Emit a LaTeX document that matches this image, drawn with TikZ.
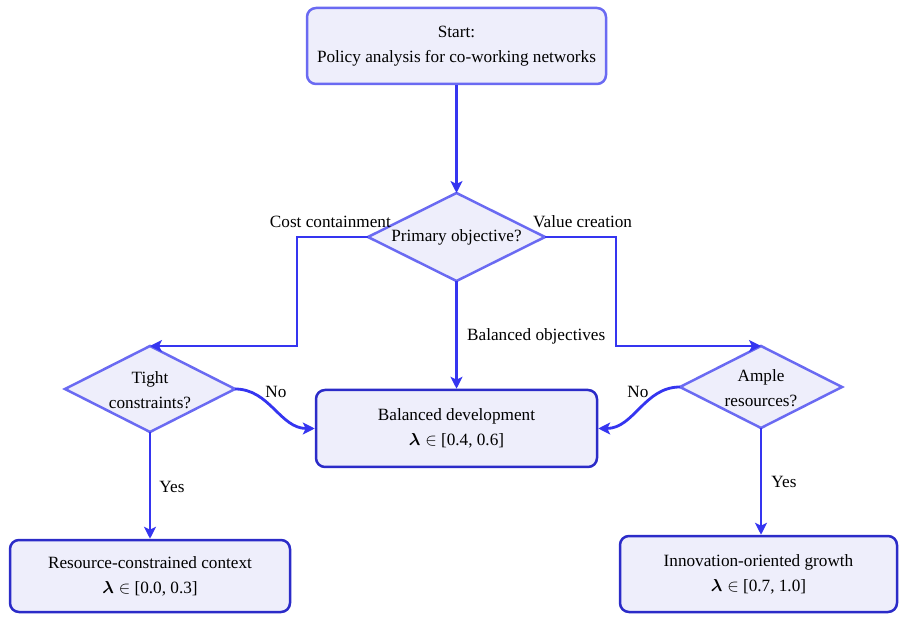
\documentclass[tikz,border=0pt]{standalone}
\usepackage{amsmath}
\usepackage{bm}
\usepackage{fontspec}
\setmainfont{Liberation Serif}
\usetikzlibrary{shapes.geometric,arrows.meta}
\definecolor{cFill}{HTML}{EEEEFB}
\definecolor{cLight}{HTML}{6A6AF2}
\definecolor{cDark}{HTML}{2B2BC8}
\definecolor{cArrow}{HTML}{3535F0}
\begin{document}
\begin{tikzpicture}[x=1pt,y=-1pt,
  every node/.style={font=\fontsize{17.2}{25}\selectfont},
  startbox/.style={draw=cLight, fill=cFill, line width=2.5pt, rounded corners=9pt, align=center, inner sep=0pt},
  endbox/.style={draw=cDark, fill=cFill, line width=2.5pt, rounded corners=9pt, align=center, inner sep=0pt},
  decision/.style={diamond, draw=cLight, fill=cFill, line width=2.5pt, inner sep=0pt, outer sep=0pt},
  dtext/.style={align=center, inner sep=0pt},
  flow/.style={draw=cArrow, line width=2.8pt, -{Stealth[length=12pt,width=12pt,inset=3pt]}},
  lbl/.style={inner sep=1pt}
]
\useasboundingbox (0,0) rectangle (900,617);
\node[startbox, minimum width=299pt, minimum height=76pt] (start) at (456.5,46) {Start:\\Policy analysis for co-working networks};
\node[decision, minimum width=177pt, minimum height=88pt] (prim) at (456.5,237) {};
\node[dtext] (primt) at (456.5,237) {Primary objective?};
\node[decision, minimum width=170pt, minimum height=86pt] (tight) at (150,389) {};
\node[dtext] (tightt) at (150,390) {Tight\\constraints?};
\node[decision, minimum width=162pt, minimum height=82pt] (ample) at (761,387) {};
\node[dtext] (amplet) at (761,388) {Ample\\resources?};
\node[endbox, minimum width=281pt, minimum height=77pt] (bal) at (456.5,428.5) {Balanced development\\$\bm{\lambda}\in$ [0.4, 0.6]};
\node[endbox, minimum width=280pt, minimum height=72pt] (res) at (150,576) {Resource-constrained context\\$\bm{\lambda}\in$ [0.0, 0.3]};
\node[endbox, minimum width=277pt, minimum height=76pt] (inn) at (758.5,574) {Innovation-oriented growth\\$\bm{\lambda}\in$ [0.7, 1.0]};
\coordinate (lc) at (297,345);
\coordinate (rc) at (616,345);
\draw[flow] (start) -- (prim);
\draw[flow] (prim.west) -| (lc |- tight.north) -- (tight.north);
\draw[flow] (prim.east) -| (rc |- ample.north) -- (ample.north);
\draw[flow] (prim) -- (bal);
\draw[flow] (tight.east) to[out=0,in=180] (bal.west);
\draw[flow] (ample.west) to[out=180,in=0] (bal.east);
\draw[flow] (tight) -- (res);
\draw[flow] (ample.south) -- (ample.south |- inn.north);
\node[lbl, anchor=east] (lcost) at (392,222) {Cost containment};
\node[lbl, anchor=west] (lval) at (532,222) {Value creation};
\node[lbl, anchor=west] (lbalo) at (466,336) {Balanced objectives};
\node[lbl] (lno1) at (276,392) {No};
\node[lbl] (lno2) at (638,392) {No};
\node[lbl] (lyes1) at (172,487) {Yes};
\node[lbl] (lyes2) at (784,482) {Yes};
\end{tikzpicture}
\end{document}
